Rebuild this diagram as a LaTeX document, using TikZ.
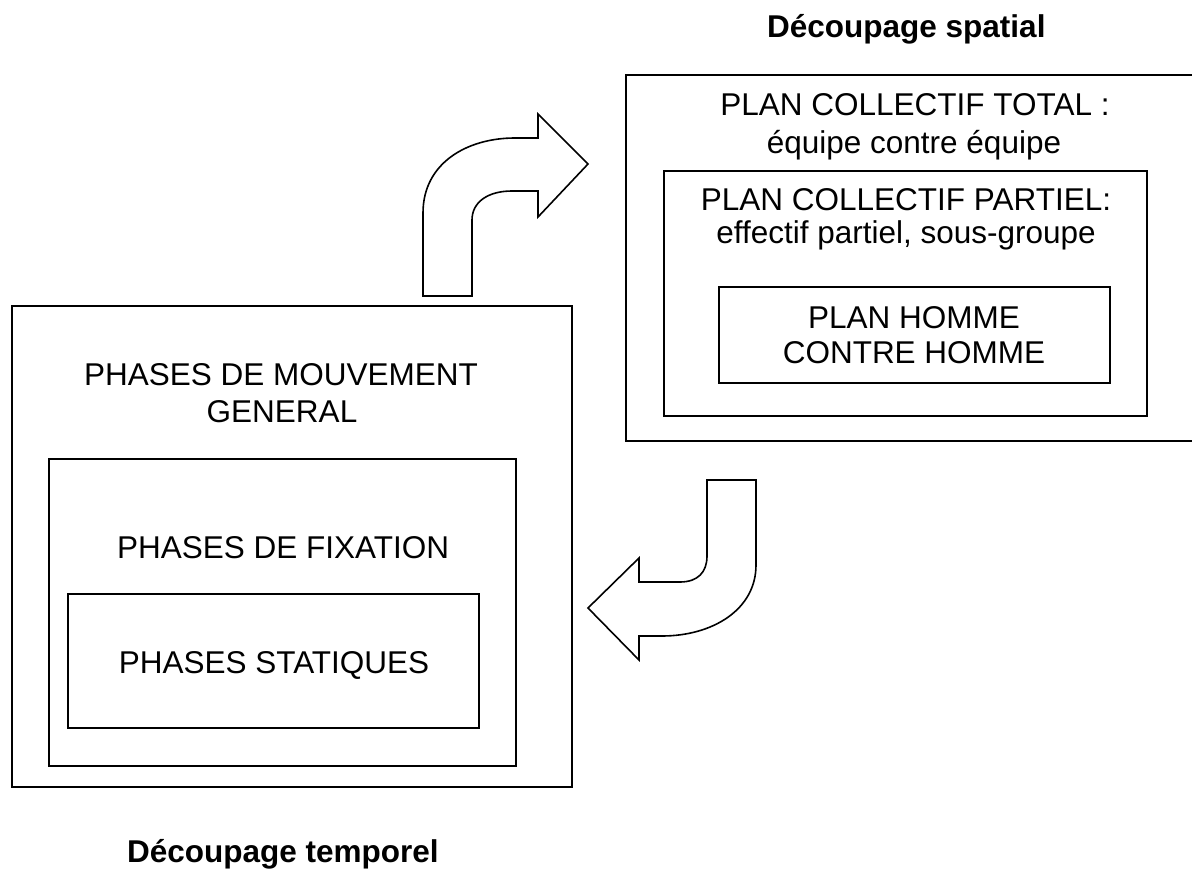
\documentclass[tikz,border=0pt]{standalone}
\usepackage{fontspec}
\setmainfont{Liberation Sans}
\begin{document}
\begin{tikzpicture}[x=1pt,y=-1pt,
  frame/.style={draw=black,line width=1.6pt},
  txt/.style={anchor=base,inner sep=0pt,font=\fontsize{31.5}{35}\selectfont},
  title/.style={anchor=base west,inner sep=0pt,font=\fontsize{31.5}{35}\selectfont\bfseries},
  bigarrow/.style={draw=black,line width=1.6pt,fill=white,line join=miter}]
\useasboundingbox (0,0) rectangle (1192,869);

% spatial nesting (right)
\draw[frame] (626,75) rectangle (1194,441);
\draw[frame] (664,171) rectangle (1147,416);
\draw[frame] (719,287) rectangle (1110,383);
\node[txt] (total1) at (915,116) {PLAN COLLECTIF TOTAL :};
\node[txt] (total2) at (914,154) {équipe contre équipe};
\node[txt] (partiel1) at (906,211) {PLAN COLLECTIF PARTIEL:};
\node[txt] (partiel2) at (906,244) {effectif partiel, sous-groupe};
\node[txt] (homme1) at (914,328) {PLAN HOMME};
\node[txt] (homme2) at (914,363) {CONTRE HOMME};
\node[title] (spatial) at (767,38) {Découpage spatial};

% temporal nesting (left)
\draw[frame] (12,306) rectangle (572,787);
\draw[frame] (49,459) rectangle (516,766);
\draw[frame] (68,594) rectangle (479,728);
\node[txt] (mouv1) at (281,385) {PHASES DE MOUVEMENT};
\node[txt] (mouv2) at (282,422) {GENERAL};
\node[txt] (fix) at (283,558) {PHASES DE FIXATION};
\node[txt] (stat) at (274,673) {PHASES STATIQUES};
\node[title] (temporel) at (127,862) {Découpage temporel};

% curved block arrow: time -> space
\draw[bigarrow] (423,296) -- (423,213)
  .. controls (423,163) and (467,138) .. (515,138) -- (538,138)
  -- (538,114) -- (588,164) -- (538,217) -- (538,191) -- (512,191)
  .. controls (488,191) and (472,202) .. (472,220) -- (472,296) -- cycle;

% curved block arrow: space -> time
\draw[bigarrow] (707,480) -- (756,480) -- (756,565)
  .. controls (756,610) and (712,636) .. (662,636) -- (639,636)
  -- (639,660) -- (588,608) -- (639,558) -- (639,582) -- (680,582)
  .. controls (698,582) and (707,572) .. (707,556) -- cycle;
\end{tikzpicture}
\end{document}
